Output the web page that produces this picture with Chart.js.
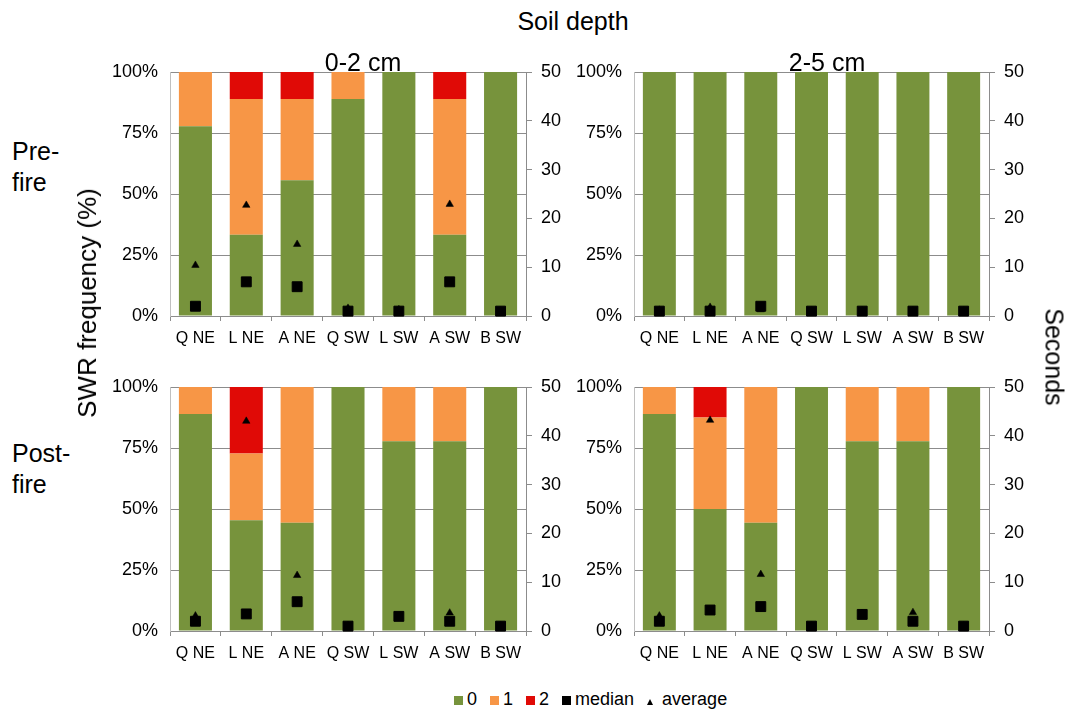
<!DOCTYPE html>
<html>
<head>
<meta charset="utf-8">
<script src="https://cdn.jsdelivr.net/npm/chart.js@4.4.1/dist/chart.umd.min.js"></script>
<style>
  body { margin: 0; width: 1070px; height: 710px; background: #fff; position: relative; overflow: hidden;
         font-family: "Liberation Sans", Arial, sans-serif; color: #000; }
  canvas { position: absolute; }
  .t { position: absolute; white-space: nowrap; line-height: 1; z-index: 2; }
  .legend { position: absolute; left: 454px; top: 690px; font-size: 18px; line-height: 1; white-space: nowrap; z-index: 2;
            display: flex; align-items: baseline; }
  .legend .item { display: flex; align-items: baseline; margin-right: 13px; }
  .sw { display: inline-block; width: 9px; height: 9px; margin-right: 4px; }
  .tri { display: inline-block; width: 0; height: 0; border-left: 3px solid transparent; border-right: 3px solid transparent;
         border-bottom: 6px solid #000; margin-right: 9px; }
</style>
</head>
<body>

<div class="t" style="font-size:25px; left:573px; top:9px; transform:translateX(-50%);">Soil depth</div>
<div class="t" style="font-size:25px; left:363px; top:50px; transform:translateX(-50%);">0-2 cm</div>
<div class="t" style="font-size:25px; left:827px; top:50px; transform:translateX(-50%);">2-5 cm</div>
<div class="t" style="font-size:25px; line-height:31px; left:12px; top:136px;">Pre-<br>fire</div>
<div class="t" style="font-size:25px; line-height:31px; left:12px; top:438px;">Post-<br>fire</div>
<div class="t" style="font-size:26px; left:87px; top:303px; transform:translate(-50%,-50%) rotate(-90deg);">SWR frequency (%)</div>
<div class="t" style="font-size:25px; left:1054px; top:357px; transform:translate(-50%,-50%) rotate(90deg);">Seconds</div>

<div class="legend">
  <span class="item"><span class="sw" style="background:#77933c"></span>0</span>
  <span class="item"><span class="sw" style="background:#f79646"></span>1</span>
  <span class="item"><span class="sw" style="background:#e00a06"></span>2</span>
  <span class="item"><span class="sw" style="background:#000"></span>median</span>
  <span class="item"><span class="tri"></span>average</span>
</div>

<canvas id="preShallow"  width="490" height="300" style="left:100px; top:56px;"></canvas>
<canvas id="preDeep"     width="490" height="300" style="left:564px; top:56px;"></canvas>
<canvas id="postShallow" width="490" height="300" style="left:100px; top:371px;"></canvas>
<canvas id="postDeep"    width="490" height="300" style="left:564px; top:371px;"></canvas>

<script>
// Sites along the x axis
const categories = ['Q NE', 'L NE', 'A NE', 'Q SW', 'L SW', 'A SW', 'B SW'];

// Axis ticks: SWR frequency (%) on the left, seconds on the right
const freqTicks = [0, 25, 50, 75, 100];
const secondTicks = [0, 10, 20, 30, 40, 50];

// Pre-fire, 0-2 cm
const preShallowClass0 = [77.8, 33.3, 55.6, 88.9, 100, 33.3, 100];
const preShallowClass1 = [22.2, 55.6, 33.3, 11.1, 0, 55.6, 0];
const preShallowClass2 = [0, 11.1, 11.1, 0, 0, 11.1, 0];
const preShallowMedian = [2, 7, 6, 1, 1, 7, 1];
const preShallowAverage = [10.4, 22.7, 14.7, 1.6, 1.3, 22.9, 1];

// Pre-fire, 2-5 cm
const preDeepClass0 = [100, 100, 100, 100, 100, 100, 100];
const preDeepClass1 = [0, 0, 0, 0, 0, 0, 0];
const preDeepClass2 = [0, 0, 0, 0, 0, 0, 0];
const preDeepMedian = [1, 1, 2, 1, 1, 1, 1];
const preDeepAverage = [1.2, 1.8, 1.3, 1, 1, 1, 1];

// Post-fire, 0-2 cm
const postShallowClass0 = [88.9, 45.4, 44.4, 100, 77.8, 77.8, 100];
const postShallowClass1 = [11.1, 27.3, 55.6, 0, 22.2, 22.2, 0];
const postShallowClass2 = [0, 27.3, 0, 0, 0, 0, 0];
const postShallowMedian = [2, 3.5, 6, 1, 3, 2, 1];
const postShallowAverage = [3.1, 43.0, 11.4, 1, 3, 3.7, 1];

// Post-fire, 2-5 cm
const postDeepClass0 = [88.9, 50, 44.4, 100, 77.8, 77.8, 100];
const postDeepClass1 = [11.1, 37.5, 55.6, 0, 22.2, 22.2, 0];
const postDeepClass2 = [0, 12.5, 0, 0, 0, 0, 0];
const postDeepMedian = [2, 4.3, 5, 1, 3.4, 2, 1];
const postDeepAverage = [3.1, 43.2, 11.6, 1, 3.5, 3.8, 1];

const FONT = '"Liberation Sans", Arial, sans-serif';
const GREEN = '#77933c', ORANGE = '#f79646', RED = '#e00a06';
const GRID = '#8c8c8c';

// Fix the axis box sizes so every panel's plot area lines up on the page
function fixVertical(width) {
  return s => { s.width = width; s.paddingTop = 0; s.paddingBottom = 0; };
}

function panel(id, c0, c1, c2, median, average, plotW) {
  const W = 490, leftW = 70, xAxisH = 40, padTop = 16;
  return new Chart(document.getElementById(id), {
    type: 'bar',
    data: {
      labels: categories,
      datasets: [
        { label: '0', data: c0, backgroundColor: GREEN, yAxisID: 'y', order: 3, borderWidth: 0 },
        { label: '1', data: c1, backgroundColor: ORANGE, yAxisID: 'y', order: 3, borderWidth: 0 },
        { label: '2', data: c2, backgroundColor: RED, yAxisID: 'y', order: 3, borderWidth: 0 },
        { type: 'line', label: 'median', data: median, yAxisID: 'y2', order: 1, showLine: false, clip: false,
          pointStyle: 'rect', pointRadius: 7, pointBackgroundColor: '#000', pointBorderColor: '#000', pointBorderWidth: 1 },
        { type: 'line', label: 'average', data: average, yAxisID: 'y2', order: 0, showLine: false, clip: false,
          pointStyle: 'triangle', pointRadius: 4.3, pointBackgroundColor: '#000', pointBorderColor: '#000', pointBorderWidth: 0.5 }
      ]
    },
    options: {
      responsive: false,
      animation: false,
      devicePixelRatio: 1,
      layout: { padding: { top: padTop, left: 0, right: 0, bottom: 0 } },
      datasets: { bar: { categoryPercentage: 1, barPercentage: 0.65 } },
      plugins: { legend: { display: false }, tooltip: { enabled: false } },
      scales: {
        x: {
          stacked: true,
          grid: { offset: true, drawOnChartArea: false, drawTicks: true, tickLength: 5, color: GRID },
          border: { color: GRID },
          ticks: { font: { family: FONT, size: 16 }, color: '#000', padding: 8, maxRotation: 0, autoSkip: false },
          afterFit: s => { s.height = xAxisH; s.paddingLeft = 0; s.paddingRight = 0; }
        },
        y: {
          position: 'left', stacked: true, min: freqTicks[0], max: freqTicks[freqTicks.length - 1],
          afterBuildTicks: s => { s.ticks = freqTicks.map(v => ({ value: v })); },
          ticks: { font: { family: FONT, size: 18 }, color: '#000', padding: 12, callback: v => v + '%' },
          grid: { color: GRID, drawTicks: false },
          border: { color: '#c0c0c0', width: 1 },
          afterFit: fixVertical(leftW)
        },
        y2: {
          position: 'right', min: secondTicks[0], max: secondTicks[secondTicks.length - 1],
          afterBuildTicks: s => { s.ticks = secondTicks.map(v => ({ value: v })); },
          ticks: { font: { family: FONT, size: 18 }, color: '#000', padding: 9 },
          grid: { drawOnChartArea: false, drawTicks: true, tickLength: 6, color: GRID },
          border: { color: GRID },
          afterFit: fixVertical(W - leftW - plotW)
        }
      }
    }
  });
}

panel('preShallow', preShallowClass0, preShallowClass1, preShallowClass2, preShallowMedian, preShallowAverage, 356);
panel('preDeep', preDeepClass0, preDeepClass1, preDeepClass2, preDeepMedian, preDeepAverage, 355);
panel('postShallow', postShallowClass0, postShallowClass1, postShallowClass2, postShallowMedian, postShallowAverage, 356);
panel('postDeep', postDeepClass0, postDeepClass1, postDeepClass2, postDeepMedian, postDeepAverage, 355);
</script>
</body>
</html>
